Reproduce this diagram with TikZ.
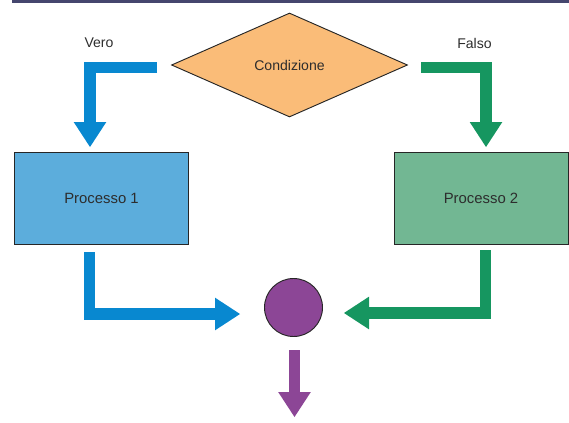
\documentclass[tikz,border=0pt]{standalone}
\usepackage{fontspec}
\setmainfont{Liberation Sans}
\usetikzlibrary{shapes.geometric,arrows.meta}
\definecolor{barblu}{RGB}{69,70,110}
\definecolor{frecciablu}{RGB}{8,136,208}
\definecolor{boxblu}{RGB}{92,173,220}
\definecolor{frecciaverde}{RGB}{22,150,96}
\definecolor{boxverde}{RGB}{114,183,147}
\definecolor{arancio}{RGB}{250,188,120}
\definecolor{viola}{RGB}{140,70,150}
\definecolor{testo}{RGB}{45,45,45}
\tikzset{
  proc/.style={draw=black!85, line width=0.8pt, minimum width=5.22cm, minimum height=2.76cm,
    inner sep=0pt, text=testo, font=\fontsize{12.7}{14}\selectfont},
  etichetta/.style={text=testo, font=\fontsize{12}{13}\selectfont},
  fat/.style={line width=0.35cm, line join=miter,
    -{Triangle[width=0.98cm,length=0.75cm,line width=0pt]}},
}
\begin{document}
\begin{tikzpicture}[x=0.03cm,y=-0.03cm]
			\useasboundingbox (0,0) rectangle (569,422);
			\fill[barblu] (12,0) rectangle (569,3);
			\node[diamond, draw=black!85, line width=0.8pt, fill=arancio, inner sep=0pt,
			  minimum width=7.08cm, minimum height=3.12cm, text=testo,
			  font=\fontsize{12}{13}\selectfont] (cond) at (289.5,65) {Condizione};
			\node[etichetta] (vero) at (99,43) {Vero};
			\node[etichetta] (falso) at (474.5,43) {Falso};
			\node[proc, fill=boxblu] (p1) at (101.5,198) {Processo 1};
			\node[proc, fill=boxverde] (p2) at (481,198) {Processo 2};
			\node[circle, draw=black!85, line width=0.8pt, fill=viola, minimum size=1.74cm, inner sep=0pt] (m) at (293.5,307.5) {};
			% frecce
			\coordinate (A) at (157,67.5);\coordinate (B) at (90,67.5);\coordinate (C) at (90,147);
			\coordinate (D) at (421,67.5);\coordinate (E) at (486,67.5);\coordinate (F) at (486,147);
			\coordinate (G) at (89.5,252);\coordinate (H) at (89.5,314);\coordinate (I) at (240,314);
			\coordinate (J) at (485.5,250);\coordinate (K) at (485.5,313);\coordinate (L) at (344,313);
			\coordinate (M) at (294.5,350);\coordinate (N) at (294.5,417);
			\draw[fat, frecciablu] (A)--(B)--(C);
			\draw[fat, frecciaverde] (D)--(E)--(F);
			\draw[fat, frecciablu] (G)--(H)--(I);
			\draw[fat, frecciaverde] (J)--(K)--(L);
			\draw[fat, viola] (M)--(N);
			\end{tikzpicture}
\end{document}
